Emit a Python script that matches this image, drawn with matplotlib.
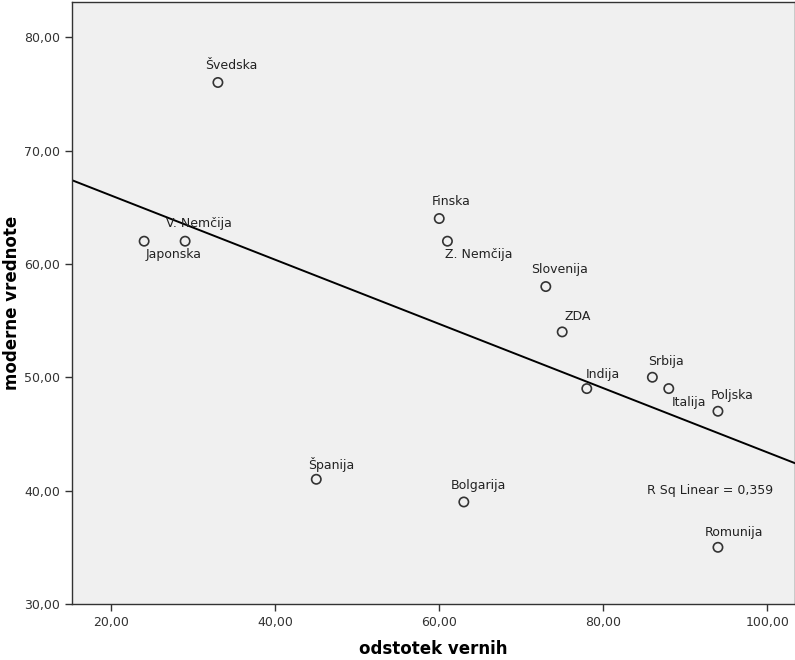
import numpy as np
import matplotlib
matplotlib.use('Agg')
import matplotlib.pyplot as plt

# data
countries = ['Švedska', 'Japonska', 'V. Nemčija', 'Finska', 'Z. Nemčija', 'Slovenija',
             'ZDA', 'Indija', 'Srbija', 'Italija', 'Poljska', 'Španija', 'Bolgarija', 'Romunija']
vernih = [33, 24, 29, 60, 61, 73, 75, 78, 86, 88, 94, 45, 63, 94]
moderne = [76, 62, 62, 64, 62, 58, 54, 49, 50, 49, 47, 41, 39, 35]

# label offsets in pixels (left edge of text, vertical centre)
offsets = [(-13, 17), (1, -13), (-19, 18), (-7, 17), (-2, -13), (-15, 17), (2, 15),
           (-1, 14), (-4, 16), (3, -14), (-7, 16), (-8, 15), (-13, 16), (-13, 15)]

x = np.array(vernih, dtype=float)
y = np.array(moderne, dtype=float)
slope, icept = np.polyfit(x, y, 1)
r2 = np.corrcoef(x, y)[0, 1] ** 2

fig = plt.figure(figsize=(7.95, 6.6), dpi=100)
ax = fig.add_axes([72 / 795, 56 / 660, 1 - 72 / 795, 1 - 56 / 660 - 0.003])
ax.set_facecolor('#f0f0f0')

xmin, xmax = 15.2, 103.4
ax.set_xlim(xmin, xmax)
ax.set_ylim(30, 83.1)

xs = np.array([xmin, xmax])
ax.plot(xs, icept + slope * xs, color='black', lw=1.4, zorder=2)

ax.scatter(x, y, s=45, facecolors='none', edgecolors='#333333', linewidths=1.2, zorder=3)

for name, xi, yi, (dx, dy) in zip(countries, x, y, offsets):
    ax.annotate(name, (xi, yi), xytext=(dx, dy), textcoords='offset pixels',
                ha='left', va='center', fontsize=9, color='#222222', zorder=4)

ax.text(85.4, 40.0, 'R Sq Linear = ' + f'{r2:.3f}'.replace('.', ','),
        ha='left', va='center', fontsize=9, color='#222222')

ax.set_xticks([20, 40, 60, 80, 100])
ax.set_yticks([30, 40, 50, 60, 70, 80])
ax.set_xticklabels([f'{v},00' for v in [20, 40, 60, 80, 100]])
ax.set_yticklabels([f'{v},00' for v in [30, 40, 50, 60, 70, 80]])
ax.tick_params(labelsize=9, labelcolor='#333333', length=5, width=1, color='#333333')

for s in ax.spines.values():
    s.set_color('#333333')
    s.set_linewidth(1)

ax.set_xlabel('odstotek vernih', fontsize=12, fontweight='bold', labelpad=8)
ax.set_ylabel('moderne vrednote', fontsize=12, fontweight='bold', labelpad=2)

fig.savefig('out.png', dpi=100)
